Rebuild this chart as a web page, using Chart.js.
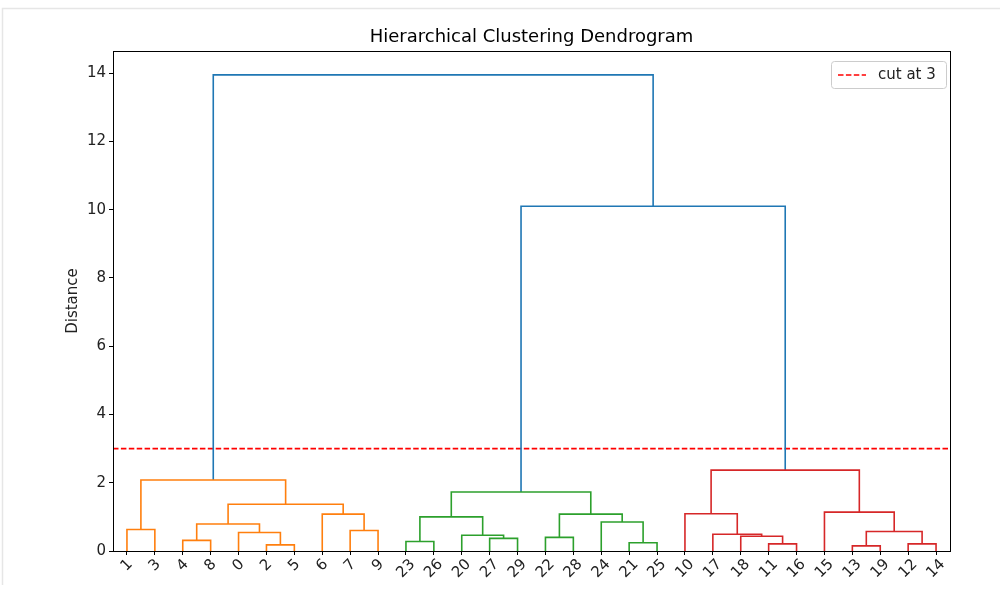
<!DOCTYPE html>
<html>
<head>
<meta charset="utf-8">
<script src="https://cdn.jsdelivr.net/npm/chart.js@4/dist/chart.umd.min.js"></script>
<style>
  html, body { margin:0; padding:0; background:#fff; }
  #wrap { width:1000px; height:589px; position:relative; }
</style>
</head>
<body>
<div id="wrap"><canvas id="dendro" width="1000" height="589"></canvas></div>
<script>
// leaves as they appear left to right
const leafOrder = [1,3,4,8,0,2,5,6,7,9,23,26,20,27,29,22,28,24,21,25,10,17,18,11,16,15,13,19,12,14];
const nLeaves = 30;

// linkage rows: cluster 30+k merges mergeLeft[k] and mergeRight[k] at mergeHeight[k]
const mergeLeft   = [13, 2,11,12,21,23, 4,27,22,18,20,17, 0,30, 7, 1,36,24,35, 6,38,10,15,46,48,45,51,54,55];
const mergeRight  = [19, 5,16,14,25,26, 8,29,28,32,37,39,31,33, 9, 3,42,34,40,44,47,41,43,49,50,53,52,56,57];
const mergeHeight = [0.15,0.18,0.21,0.21,0.24,0.28,0.31,0.37,0.40,0.43,0.46,0.49,0.54,0.57,0.60,0.63,
                     0.79,0.85,1.00,1.08,1.08,1.09,1.14,1.37,1.73,2.08,2.37,10.10,13.95];

const cutHeight = 3;
const yTicks = [0,2,4,6,8,10,12,14];

const aboveColor = "#1f77b4";
const clusterColors = ["#ff7f0e","#2ca02c","#d62728"];
const colorThreshold = 0.7 * Math.max(...mergeHeight);

// leaf x positions like scipy: 5, 15, 25, ...
const pos = {};
leafOrder.forEach((leaf, i) => { pos[leaf] = 10 * i + 5; });
const height = {};
for (let i = 0; i < nLeaves; i++) height[i] = 0;
mergeLeft.forEach((l, k) => {
  const id = nLeaves + k;
  pos[id] = (pos[l] + pos[mergeRight[k]]) / 2;
  height[id] = mergeHeight[k];
});

// colour each link: subtrees under the threshold get their own colour
const linkColor = {};
let nextColor = 0;
function paint(id, color){
  if(id < nLeaves) return;
  const k = id - nLeaves;
  if(color == null && mergeHeight[k] < colorThreshold){
    color = clusterColors[nextColor++ % clusterColors.length];
  }
  linkColor[id] = color || aboveColor;
  // walk left to right so colours go in leaf order
  const kids = [mergeLeft[k], mergeRight[k]].sort((a,b)=>pos[a]-pos[b]);
  kids.forEach(c => paint(c, color));
}
paint(nLeaves + mergeLeft.length - 1, null);

const datasets = mergeLeft.map((l, k) => {
  const id = nLeaves + k, r = mergeRight[k];
  return {
    data: [
      {x: pos[l], y: height[l]},
      {x: pos[l], y: mergeHeight[k]},
      {x: pos[r], y: mergeHeight[k]},
      {x: pos[r], y: height[r]}
    ],
    borderColor: linkColor[id],
    borderWidth: 1.6,
    showLine: true,
    pointRadius: 0,
    fill: false
  };
});
datasets.push({
  label: "cut at " + cutHeight,
  data: [{x: 0, y: cutHeight}, {x: 10 * nLeaves, y: cutHeight}],
  borderColor: "#ff0000",
  borderWidth: 1.6,
  borderDash: [5.5, 2.4],
  showLine: true,
  pointRadius: 0,
  isCut: true
});

const FONT = "'DejaVu Sans', sans-serif";

// frame, title, axis label, rotated leaf labels, legend
const decor = {
  id: "decor",
  beforeDraw(chart){
    const c = chart.ctx;
    c.save();
    c.strokeStyle = "#e6e6e6";
    c.lineWidth = 1.5;
    c.beginPath();
    c.moveTo(2.5, 585); c.lineTo(2.5, 8.5); c.lineTo(1000, 8.5);
    c.stroke();
    c.restore();
  },
  afterDraw(chart){
    const c = chart.ctx, a = chart.chartArea;
    const xs = chart.scales.x;
    c.save();
    c.strokeStyle = "#000";
    c.lineWidth = 1;
    c.strokeRect(a.left + 0.5, a.top + 0.5, a.right - a.left, a.bottom - a.top);

    c.fillStyle = "#000";
    c.font = "18px " + FONT;
    c.textAlign = "center";
    c.textBaseline = "alphabetic";
    c.fillText("Hierarchical Clustering Dendrogram", (a.left + a.right) / 2, 42);

    c.font = "15px " + FONT;
    c.fillStyle = "#222";
    c.save();
    c.translate(73, (a.top + a.bottom) / 2);
    c.rotate(-Math.PI / 2);
    c.textBaseline = "middle";
    c.fillText("Distance", 0, 0);
    c.restore();

    // leaf labels, 45 degrees, centred under the tick
    leafOrder.forEach((leaf, i) => {
      const txt = String(leaf);
      const w = c.measureText(txt).width, h = 14;
      const px = xs.getPixelForValue(10 * i + 5);
      const py = a.bottom + 6 + (w + h) / (2 * Math.SQRT2);
      c.save();
      c.translate(px, py);
      c.rotate(-Math.PI / 4);
      c.textAlign = "center";
      c.textBaseline = "middle";
      c.fillText(txt, 0, 0);
      c.restore();
    });

    // legend box
    const cut = chart.data.datasets.find(d => d.isCut);
    const bx = 831, by = 61, bw = 115, bh = 27;
    c.fillStyle = "rgba(255,255,255,0.8)";
    c.strokeStyle = "#cccccc";
    c.lineWidth = 1;
    c.beginPath();
    c.roundRect(bx + 0.5, by + 0.5, bw, bh, 3);
    c.fill(); c.stroke();
    c.strokeStyle = cut.borderColor;
    c.lineWidth = 1.6;
    c.setLineDash(cut.borderDash);
    c.beginPath();
    c.moveTo(838, by + bh / 2 + 0.5); c.lineTo(866, by + bh / 2 + 0.5);
    c.stroke();
    c.setLineDash([]);
    c.fillStyle = "#222";
    c.textAlign = "left";
    c.textBaseline = "middle";
    c.fillText(cut.label, 878, by + bh / 2 + 1);
    c.restore();
  }
};

new Chart(document.getElementById("dendro"), {
  type: "scatter",
  data: { datasets },
  options: {
    responsive: false,
    animation: false,
    layout: { padding: { top: 51, right: 50, left: 0, bottom: 0 } },
    plugins: { legend: { display: false }, tooltip: { enabled: false }, title: { display: false } },
    scales: {
      x: {
        type: "linear",
        min: 0, max: 10 * nLeaves,
        afterBuildTicks: s => { s.ticks = leafOrder.map((_, i) => ({ value: 10 * i + 5 })); },
        afterFit: s => { s.height = 38; },
        ticks: { display: false },
        grid: { drawOnChartArea: false, drawTicks: true, tickLength: 4, color: "#000" },
        border: { display: true, color: "#000" }
      },
      y: {
        type: "linear",
        min: 0, max: 14.65,
        afterBuildTicks: s => { s.ticks = yTicks.map(v => ({ value: v })); },
        afterFit: s => { s.width = 113; },
        ticks: { color: "#222", font: { family: FONT, size: 15 }, padding: 3 },
        grid: { drawOnChartArea: false, drawTicks: true, tickLength: 4, color: "#000" },
        border: { display: true, color: "#000" }
      }
    }
  },
  plugins: [decor]
});
</script>
</body>
</html>
